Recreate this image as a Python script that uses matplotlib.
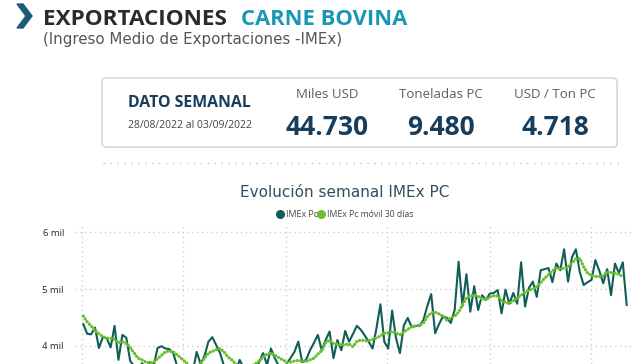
import numpy as np
import pandas as pd
import matplotlib
matplotlib.use('Agg')
import matplotlib.pyplot as plt
import matplotlib.dates as mdates
from matplotlib.patches import FancyBboxPatch, Polygon

# weekly IMEx (USD / ton PC), week ending on Saturday
weeks = pd.date_range('2020-01-04', periods=140, freq='W-SAT')

imex = [4380, 4210, 4200, 4320, 3960, 4150, 4130, 3970, 4350, 3750,
        4190, 4140, 3730, 3640, 3570, 3690, 3610, 3710, 3640, 3960,
        3990, 3950, 3940, 3870, 3640, 3540, 3470, 3610, 3540, 3890,
        3680, 3820, 4070, 4150, 4010, 3870, 3640, 3540, 3610, 3540,
        3750, 3610, 3500, 3640, 3570, 3710, 3870, 3660, 3950, 3780,
        3640, 3570, 3680, 3780, 3890, 4070, 3710, 3750, 3920, 4050,
        4190, 3920, 4100, 4250, 3780, 4100, 3920, 4260, 4070, 4210,
        4350, 4280, 4180, 4070, 3950, 4310, 4730, 4070, 3950, 4620,
        4130, 3870, 4360, 4490, 4330, 4350, 4350, 4450, 4700, 4910,
        4220, 4380, 4520, 4490, 4400, 4630, 5480, 4700, 5260, 4600,
        5050, 4630, 4890, 4810, 4920, 4930, 4980, 4570, 4990, 4740,
        4930, 4740, 5470, 4690, 5020, 5130, 4860, 5330, 5350, 5370,
        5120, 5450, 5330, 5700, 5130, 5560, 5700, 5300, 5070, 5120,
        5160, 5510, 5320, 5100, 5350, 4890, 5450, 5280, 5470, 4718]

# moving average 30 days
movil = [4520, 4420, 4350, 4270, 4210, 4160, 4130, 4130, 4110, 4050,
         4070, 4040, 3970, 3870, 3780, 3750, 3710, 3690, 3710, 3770,
         3830, 3890, 3910, 3890, 3840, 3780, 3720, 3660, 3610, 3610,
         3680, 3780, 3870, 3900, 3930, 3950, 3890, 3800, 3750, 3680,
         3620, 3610, 3610, 3640, 3680, 3730, 3800, 3850, 3870, 3830,
         3790, 3750, 3710, 3710, 3730, 3740, 3730, 3720, 3750, 3780,
         3850, 3910, 4050, 4100, 4040, 4030, 4010, 4020, 4030, 3980,
         4080, 4100, 4090, 4090, 4110, 4140, 4170, 4220, 4230, 4250,
         4220, 4190, 4240, 4290, 4330, 4350, 4360, 4400, 4510, 4580,
         4590, 4560, 4520, 4450, 4490, 4520, 4590, 4720, 4840, 4880,
         4890, 4870, 4830, 4810, 4860, 4880, 4880, 4800, 4760, 4750,
         4790, 4840, 4890, 4940, 4980, 5000, 5040, 5110, 5190, 5250,
         5320, 5370, 5350, 5370, 5390, 5460, 5530, 5540, 5390, 5280,
         5240, 5220, 5220, 5230, 5300, 5290, 5280, 5260, 5220, np.nan]

kpi_labels = ['Miles USD', 'Toneladas PC', 'USD / Ton PC']
kpi_values = ['44.730', '9.480', '4.718']
yticks = [4000, 5000, 6000]
ytick_labels = ['4 mil', '5 mil', '6 mil']

dark = '#0f5e57'
green = '#6abf2e'
navy = '#163e5c'

fig = plt.figure(figsize=(6.4, 3.64), dpi=100)

# background layer in pixel coords (origin top-left)
bg = fig.add_axes([0, 0, 1, 1])
bg.set_xlim(0, 640)
bg.set_ylim(364, 0)
bg.axis('off')

# header
bg.add_patch(Polygon([(17, 4), (23, 4), (32, 16), (23, 28), (17, 28), (26, 16)],
                     closed=True, color='#1b5a78'))
bg.text(43, 25, 'EXPORTACIONES', fontsize=16.2, fontweight='bold', family='Open Sans',
        color='#2b2b2b', va='baseline', ha='left')
bg.text(241, 25, 'CARNE BOVINA', fontsize=15.8, fontweight='bold', family='Open Sans',
        color='#1996b4', va='baseline', ha='left')
bg.text(43, 44, '(Ingreso Medio de Exportaciones -IMEx)', fontsize=10.8, family='DejaVu Sans',
        color='#555555', va='baseline', ha='left')

# card
bg.add_patch(FancyBboxPatch((103, 79), 515, 69, boxstyle='round,pad=0,rounding_size=4',
                            fc='#e9e9e9', ec='none'))
bg.add_patch(FancyBboxPatch((102, 78), 515, 69, boxstyle='round,pad=0,rounding_size=4',
                            fc='white', ec='#d4d4d4', lw=1))
bg.text(128, 107, 'DATO SEMANAL', fontsize=11.4, fontweight='bold', family='Open Sans',
        color=navy, va='baseline', ha='left')
bg.text(128, 128, '28/08/2022 al 03/09/2022', fontsize=7.5, family='Open Sans',
        color='#444444', va='baseline', ha='left')
for cx, lab, val in zip([327, 441, 555], kpi_labels, kpi_values):
    bg.text(cx, 98, lab, fontsize=9.5, family='Open Sans', color='#605e5c',
            va='baseline', ha='center')
    bg.text(cx, 135, val, fontsize=19, fontweight='bold', family='Open Sans', color=navy,
            va='baseline', ha='center')

# dotted separator
bg.plot([103, 622], [163, 163], color='#c4c4c4', lw=1, ls=(0, (1, 4)))

# chart title and legend
bg.text(345, 197, 'Evolución semanal IMEx PC', fontsize=11, family='DejaVu Sans',
        color='#334e5c', va='baseline', ha='center')
bg.plot(280, 214.3, 'o', ms=5.5, color=dark)
bg.text(286, 217, 'IMEx Pc', fontsize=6.4, family='Open Sans', color='#444444', va='baseline')
bg.plot(321, 214.3, 'o', ms=5.5, color=green)
bg.text(327, 217, 'IMEx Pc móvil 30 días', fontsize=6.2, family='Open Sans', color='#444444',
        va='baseline')

# line chart
ax = fig.add_axes([75 / 640, 0, 557 / 640, 139 / 364])
ax.set_facecolor('none')
ax.plot(weeks, imex, color=dark, lw=1.5)
ax.plot(weeks, movil, color=green, lw=2.4, ls=(0, (0.01, 1.0)), dash_capstyle='round')

ax.set_ylim(3677, 6129)
ax.set_xlim(weeks[0] - pd.Timedelta(weeks=2.12), weeks[-1] + pd.Timedelta(weeks=1.36))
ax.set_yticks(yticks)
ax.set_yticklabels(ytick_labels, fontsize=6.8, family='Open Sans', color='#252423')
ax.xaxis.set_major_locator(mdates.MonthLocator(bymonth=[1, 7]))
ax.tick_params(axis='x', labelbottom=False, length=0)
ax.tick_params(axis='y', length=0, pad=8)
ax.grid(True, color='#cfcfcf', lw=1, ls=(0, (1, 2.5)))
for s in ax.spines.values():
    s.set_visible(False)

fig.savefig('out.png', dpi=100)
